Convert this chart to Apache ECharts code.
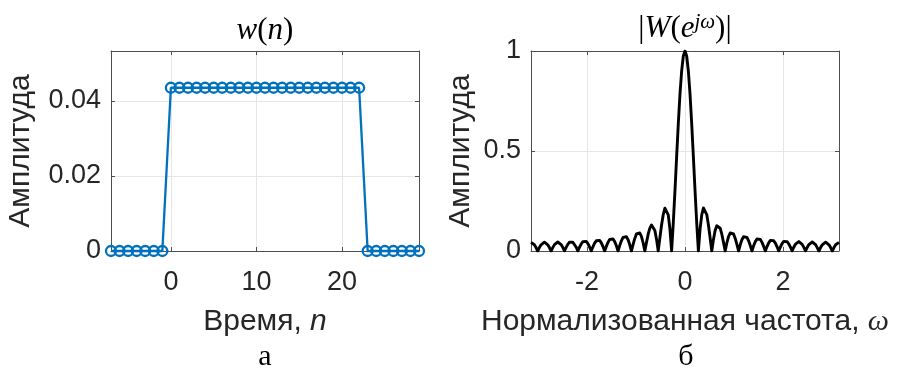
<!DOCTYPE html>
<html>
<head>
<meta charset="utf-8">
<script src="https://cdn.jsdelivr.net/npm/echarts@6/dist/echarts.min.js"></script>
<style>
  html, body { margin: 0; padding: 0; background: #ffffff; }
  #chart { width: 897px; height: 369px; }
</style>
</head>
<body>
<div id="chart"></div>
<script>
// Rectangular window of length 23, shown on n = -7 … 29
const sampleIndex = [-7, -6, -5, -4, -3, -2, -1,
  0, 1, 2, 3, 4, 5, 6, 7, 8, 9, 10, 11, 12, 13, 14, 15, 16, 17, 18, 19, 20, 21, 22,
  23, 24, 25, 26, 27, 28, 29];
const windowValues = [0, 0, 0, 0, 0, 0, 0,
  0.0435, 0.0435, 0.0435, 0.0435, 0.0435, 0.0435, 0.0435, 0.0435, 0.0435, 0.0435,
  0.0435, 0.0435, 0.0435, 0.0435, 0.0435, 0.0435, 0.0435, 0.0435, 0.0435, 0.0435,
  0.0435, 0.0435, 0.0435,
  0, 0, 0, 0, 0, 0, 0];
const timeTicks = [0, 10, 20];
const windowAmpTicks = [0, 0.02, 0.04];

// Magnitude response |W(e^{jω})|, sampled uniformly on -π … π (185 samples)
const magnitude = [
  0.043, 0.040, 0.031, 0.017, 0,
  0.017, 0.031, 0.040, 0.044, 0.041, 0.031, 0.017, 0,
  0.017, 0.032, 0.042, 0.045, 0.042, 0.032, 0.018, 0,
  0.018, 0.033, 0.044, 0.047, 0.044, 0.034, 0.019, 0,
  0.019, 0.035, 0.047, 0.051, 0.048, 0.037, 0.020, 0,
  0.021, 0.039, 0.051, 0.056, 0.053, 0.041, 0.022, 0,
  0.023, 0.043, 0.058, 0.064, 0.060, 0.047, 0.026, 0,
  0.027, 0.051, 0.068, 0.075, 0.071, 0.056, 0.031, 0,
  0.033, 0.063, 0.085, 0.095, 0.090, 0.072, 0.040, 0,
  0.043, 0.084, 0.114, 0.130, 0.126, 0.102, 0.058, 0,
  0.066, 0.130, 0.182, 0.214, 0.215, 0.181, 0.109, 0,
  0.140, 0.301, 0.471, 0.637, 0.785, 0.900, 0.975,
  1.000,
  0.975, 0.900, 0.785, 0.637, 0.471, 0.301, 0.140,
  0, 0.109, 0.181, 0.215, 0.214, 0.182, 0.130, 0.066,
  0, 0.058, 0.102, 0.126, 0.130, 0.114, 0.084, 0.043,
  0, 0.040, 0.072, 0.090, 0.095, 0.085, 0.063, 0.033,
  0, 0.031, 0.056, 0.071, 0.075, 0.068, 0.051, 0.027,
  0, 0.026, 0.047, 0.060, 0.064, 0.058, 0.043, 0.023,
  0, 0.022, 0.041, 0.053, 0.056, 0.051, 0.039, 0.021,
  0, 0.020, 0.037, 0.048, 0.051, 0.047, 0.035, 0.019,
  0, 0.019, 0.034, 0.044, 0.047, 0.044, 0.033, 0.018,
  0, 0.018, 0.032, 0.042, 0.045, 0.042, 0.032, 0.017,
  0, 0.017, 0.031, 0.041, 0.044, 0.040, 0.031, 0.017,
  0, 0.017, 0.031, 0.040, 0.043
];
const freqTicks = [-2, 0, 2];
const spectrumAmpTicks = [0, 0.5, 1];

// frequency grid of the samples above
const omega = magnitude.map((_, i) => -Math.PI + i * Math.PI / 92);

const SANS = '"Liberation Sans", Arial, Helvetica, sans-serif';
const SERIF = '"Liberation Serif", "Times New Roman", serif';
const TEXT = '#262626';
const FRAME = '#4f4f4f';
const GRIDLINE = '#e6e6e6';
const TICK_FS = 27;
const NAME_FS = 30;
const BLUE = '#0072BD';

const chart = echarts.init(document.getElementById('chart'), null, { renderer: 'canvas' });

function bottomAxis(grid, min, max, ticks, name, rich) {
  return {
    type: 'value', gridIndex: grid, position: 'bottom', min: min, max: max,
    axisLine: { show: true, onZero: false, lineStyle: { color: FRAME, width: 1 } },
    axisTick: { show: true, inside: true, length: 4, customValues: ticks, lineStyle: { color: FRAME } },
    axisLabel: { show: true, customValues: ticks, color: TEXT, fontFamily: SANS, fontSize: TICK_FS, margin: 18 },
    splitLine: { show: true, lineStyle: { color: GRIDLINE, width: 1 } },
    name: name, nameLocation: 'middle', nameGap: 56,
    nameTextStyle: { color: TEXT, fontFamily: SANS, fontSize: NAME_FS, rich: rich }
  };
}
function topAxis(grid, min, max, ticks) {
  return {
    type: 'value', gridIndex: grid, position: 'top', min: min, max: max,
    axisLine: { show: true, onZero: false, lineStyle: { color: FRAME, width: 1 } },
    axisTick: { show: true, inside: true, length: 4, customValues: ticks, lineStyle: { color: FRAME } },
    axisLabel: { show: false },
    splitLine: { show: false }
  };
}
function leftAxis(grid, min, max, interval, ticks, gap) {
  return {
    type: 'value', gridIndex: grid, position: 'left', min: min, max: max, interval: interval,
    axisLine: { show: true, onZero: false, lineStyle: { color: FRAME, width: 1 } },
    axisTick: { show: true, inside: true, length: 4, customValues: ticks, lineStyle: { color: FRAME } },
    axisLabel: { show: true, customValues: ticks, color: TEXT, fontFamily: SANS, fontSize: TICK_FS, margin: 10 },
    splitLine: { show: true, lineStyle: { color: GRIDLINE, width: 1 } },
    name: 'Амплитуда', nameLocation: 'middle', nameGap: gap,
    nameTextStyle: { color: TEXT, fontFamily: SANS, fontSize: NAME_FS }
  };
}
function rightAxis(grid, min, max, ticks) {
  return {
    type: 'value', gridIndex: grid, position: 'right', min: min, max: max,
    axisLine: { show: true, onZero: false, lineStyle: { color: FRAME, width: 1 } },
    axisTick: { show: true, inside: true, length: 4, customValues: ticks, lineStyle: { color: FRAME } },
    axisLabel: { show: false },
    splitLine: { show: false }
  };
}

const italicSans = { fontFamily: SANS, fontStyle: 'italic', fontSize: NAME_FS, color: TEXT };
const italicSerif = { fontFamily: SERIF, fontStyle: 'italic', fontSize: NAME_FS, color: TEXT };

const option = {
  backgroundColor: '#ffffff',
  animation: false,
  grid: [
    { left: 111, top: 51, width: 308, height: 200 },
    { left: 531, top: 51, width: 308, height: 200 }
  ],
  xAxis: [
    bottomAxis(0, -7, 29, timeTicks, 'Время, {i|n}', { i: italicSans }),
    topAxis(0, -7, 29, timeTicks),
    bottomAxis(1, -Math.PI, Math.PI, freqTicks, 'Нормализованная частота, {w|ω}', { w: italicSerif }),
    topAxis(1, -Math.PI, Math.PI, freqTicks)
  ],
  yAxis: [
    leftAxis(0, 0, 0.0533, 0.02, windowAmpTicks, 75),
    rightAxis(0, 0, 0.0533, windowAmpTicks),
    leftAxis(1, 0, 1, 0.5, spectrumAmpTicks, 55),
    rightAxis(1, 0, 1, spectrumAmpTicks)
  ],
  series: [
    {
      type: 'line', xAxisIndex: 0, yAxisIndex: 0,
      data: sampleIndex.map((n, i) => [n, windowValues[i]]),
      symbol: 'circle', symbolSize: 10, showSymbol: true,
      itemStyle: { color: 'rgba(255,255,255,0)', borderColor: BLUE, borderWidth: 2.3 },
      lineStyle: { color: BLUE, width: 2.3 },
      emphasis: { disabled: true }, silent: true, clip: false
    },
    {
      type: 'line', xAxisIndex: 2, yAxisIndex: 2,
      data: omega.map((w, i) => [w, magnitude[i]]),
      showSymbol: false, symbol: 'none',
      lineStyle: { color: '#000000', width: 2.9, join: 'round' },
      emphasis: { disabled: true }, silent: true
    }
  ],
  graphic: [
    {
      type: 'text',
      style: {
        text: '{i|w}{r|(}{i|n}{r|)}', x: 265, y: 31, align: 'center', verticalAlign: 'middle',
        rich: {
          i: { fontFamily: SERIF, fontStyle: 'italic', fontSize: 31, fill: '#000' },
          r: { fontFamily: SERIF, fontSize: 31, fill: '#000' }
        }
      }
    },
    {
      type: 'text',
      style: {
        text: '{r||}{i|W}{r|(}{i|e}{s|jω}{r|)|}', x: 685, y: 29, align: 'center', verticalAlign: 'middle',
        rich: {
          i: { fontFamily: SERIF, fontStyle: 'italic', fontSize: 31, fill: '#000', lineHeight: 34 },
          r: { fontFamily: SERIF, fontSize: 31, fill: '#000', lineHeight: 34 },
          s: { fontFamily: SERIF, fontStyle: 'italic', fontSize: 21, fill: '#000', verticalAlign: 'top', lineHeight: 21 }
        }
      }
    },
    {
      type: 'text',
      style: { text: 'а', x: 265, y: 357, align: 'center', verticalAlign: 'middle',
               fontFamily: SERIF, fontSize: 30, fill: '#000' }
    },
    {
      type: 'text',
      style: { text: 'б', x: 686, y: 357, align: 'center', verticalAlign: 'middle',
               fontFamily: SERIF, fontSize: 30, fill: '#000' }
    }
  ]
};

chart.setOption(option);
</script>
</body>
</html>
